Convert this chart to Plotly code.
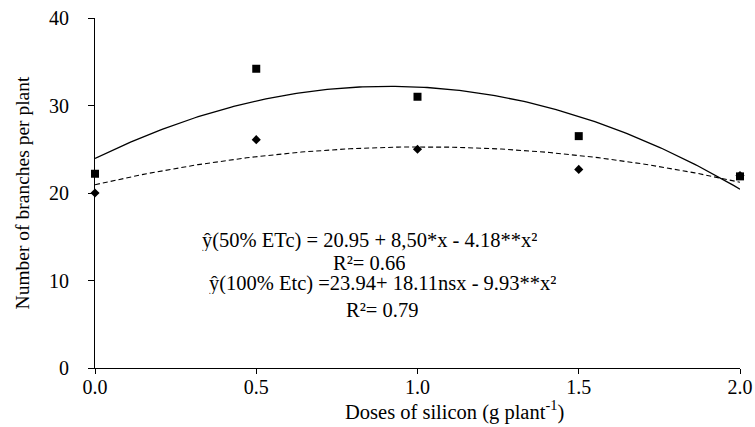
import numpy as np
import plotly.graph_objects as go

doses = [0.0, 0.5, 1.0, 1.5, 2.0]
etc100 = [22.2, 34.2, 31.0, 26.5, 21.9]
etc50 = [20.0, 26.1, 25.0, 22.7, 22.0]
coef100 = [23.94, 18.11, -9.93]
coef50 = [20.95, 8.50, -4.18]
yticks = [0, 10, 20, 30, 40]
xticks = [0.0, 0.5, 1.0, 1.5, 2.0]

xs = np.linspace(0, 2, 201)
fit100 = coef100[0] + coef100[1] * xs + coef100[2] * xs ** 2
fit50 = coef50[0] + coef50[1] * xs + coef50[2] * xs ** 2

font = "Liberation Serif"
fig = go.Figure()
fig.add_trace(go.Scatter(x=xs, y=fit100, mode="lines", line=dict(color="black", width=1.3), showlegend=False))
fig.add_trace(go.Scatter(x=xs, y=fit50, mode="lines", line=dict(color="black", width=1.1, dash="5px,3px"), showlegend=False))
fig.add_trace(go.Scatter(x=doses, y=etc100, mode="markers", marker=dict(symbol="square", size=8, color="black"), showlegend=False, cliponaxis=False))
fig.add_trace(go.Scatter(x=doses, y=etc50, mode="markers", marker=dict(symbol="diamond", size=7, color="black"), showlegend=False, cliponaxis=False))

ann_font = dict(family=font, size=20.5, color="black")
common = dict(xref="x", yref="y", showarrow=False, font=ann_font, height=21, valign="middle", borderpad=0)
fig.add_annotation(x=0.85, y=14.6, text="ŷ(50% ETc) = 20.95 + 8,50*x - 4.18**x²", **common)
fig.add_annotation(x=0.85, y=12.1, text="R²= 0.66", **common)
fig.add_annotation(x=0.89, y=9.7, text="ŷ(100% Etc) =23.94+ 18.11nsx - 9.93**x²", **common)
fig.add_annotation(x=0.89, y=6.7, text="R²= 0.79", **common)

fig.update_layout(
    width=755, height=427,
    margin=dict(l=95, r=15, t=18, b=59),
    paper_bgcolor="white", plot_bgcolor="white",
    font=dict(family=font, size=20, color="black"),
)
fig.add_annotation(x=(566 - 95) / 645, y=-0.12, xref="paper", yref="paper", xanchor="right", yanchor="middle",
                   text="Doses of silicon (g plant<sup>-1</sup>)", showarrow=False,
                   font=dict(family=font, size=20.5, color="black"))
fig.update_xaxes(range=[0, 2], tickvals=xticks, ticktext=[f"{v:.1f}" for v in xticks],
                 showline=True, linecolor="black", linewidth=1, ticks="outside", ticklen=5, tickcolor="black",
                 showgrid=False, zeroline=False, tickfont=dict(size=20), automargin=False, ticklabelstandoff=-4)
fig.update_yaxes(range=[0, 40], tickvals=yticks, showline=True, linecolor="black", linewidth=1,
                 ticks="outside", ticklen=6, tickcolor="black", showgrid=False, zeroline=False, tickfont=dict(size=20),
                 automargin=False, ticklabelstandoff=15,
                 title=dict(text="Number of branches per plant", font=dict(size=19.5), standoff=14))
fig.write_html("out.html")
